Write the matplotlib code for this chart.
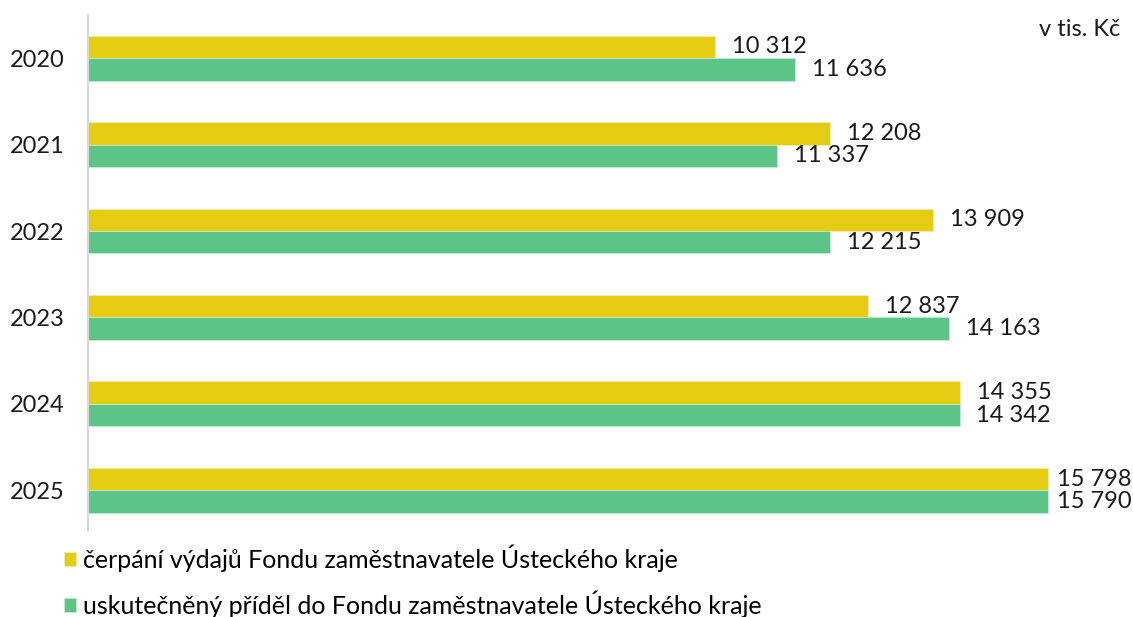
import matplotlib.pyplot as plt
import numpy as np

plt.rcParams['font.family'] = ['Lato', 'DejaVu Sans']

years = ['2020', '2021', '2022', '2023', '2024', '2025']
cerpani = [10312, 12208, 13909, 12837, 14355, 15798]
pridel = [11636, 11337, 12215, 14163, 14342, 15790]
label_cerpani = 'čerpání výdajů Fondu zaměstnavatele Ústeckého kraje'
label_pridel = 'uskutečněný příděl do Fondu zaměstnavatele Ústeckého kraje'
unit = 'v tis. Kč'

yellow = '#E3CC12'
green = '#5CC486'
txt = '#1a1a1a'

W, H = 1133, 617
fig = plt.figure(figsize=(W / 100, H / 100), dpi=100)
# axes in pixel coords: left 88, top 15, bottom 530, right edge of figure
ax = fig.add_axes([88 / W, 1 - 530 / H, 1 - 88 / W, (530 - 15) / H])

y = np.arange(len(years))
h = 0.26
b1 = ax.barh(y - h / 2, cerpani, height=h, color=yellow, edgecolor='#F3EBB0', linewidth=0.6,
             label=label_cerpani)
b2 = ax.barh(y + h / 2, pridel, height=h, color=green, edgecolor='#C5EBD4', linewidth=0.6,
             label=label_pridel)

fmt = lambda v: f'{v:,}'.replace(',', ' ')
# last group sits at the right edge, labels are pulled closer (like Excel does)
for bars, vals in ((b1, cerpani), (b2, pridel)):
    for i, (rect, v) in enumerate(zip(bars, vals)):
        pad = 6.5 if i == len(vals) - 1 else 12.2
        ax.annotate(fmt(v), (rect.get_width(), rect.get_y() + rect.get_height() / 2),
                    xytext=(pad, 0), textcoords='offset points', va='center', ha='left',
                    fontsize=17, color=txt, annotation_clip=False)

ax.set_xlim(0, (W - 88) / ((1048 - 88) / 15798))
ax.set_ylim(5.46, -0.5)
ax.set_yticks(y)
ax.set_yticklabels(years, fontsize=17, color=txt)
ax.tick_params(axis='y', length=0, pad=17)
ax.set_xticks([])
for s in ['top', 'right', 'bottom']:
    ax.spines[s].set_visible(False)
ax.spines['left'].set_color('#D9D9D9')
ax.spines['left'].set_linewidth(1.5)

fig.text(1120 / W, 1 - 30 / H, unit, ha='right', va='center', fontsize=17, color=txt)

fig.legend(handles=[b1, b2], loc='upper left', bbox_to_anchor=(64 / W, 1 - 544 / H),
           frameon=False, fontsize=18, handlelength=0.48, handleheight=0.48,
           handletextpad=0.28, labelspacing=0.74, borderpad=0, borderaxespad=0)

fig.savefig('out.png', dpi=100)
